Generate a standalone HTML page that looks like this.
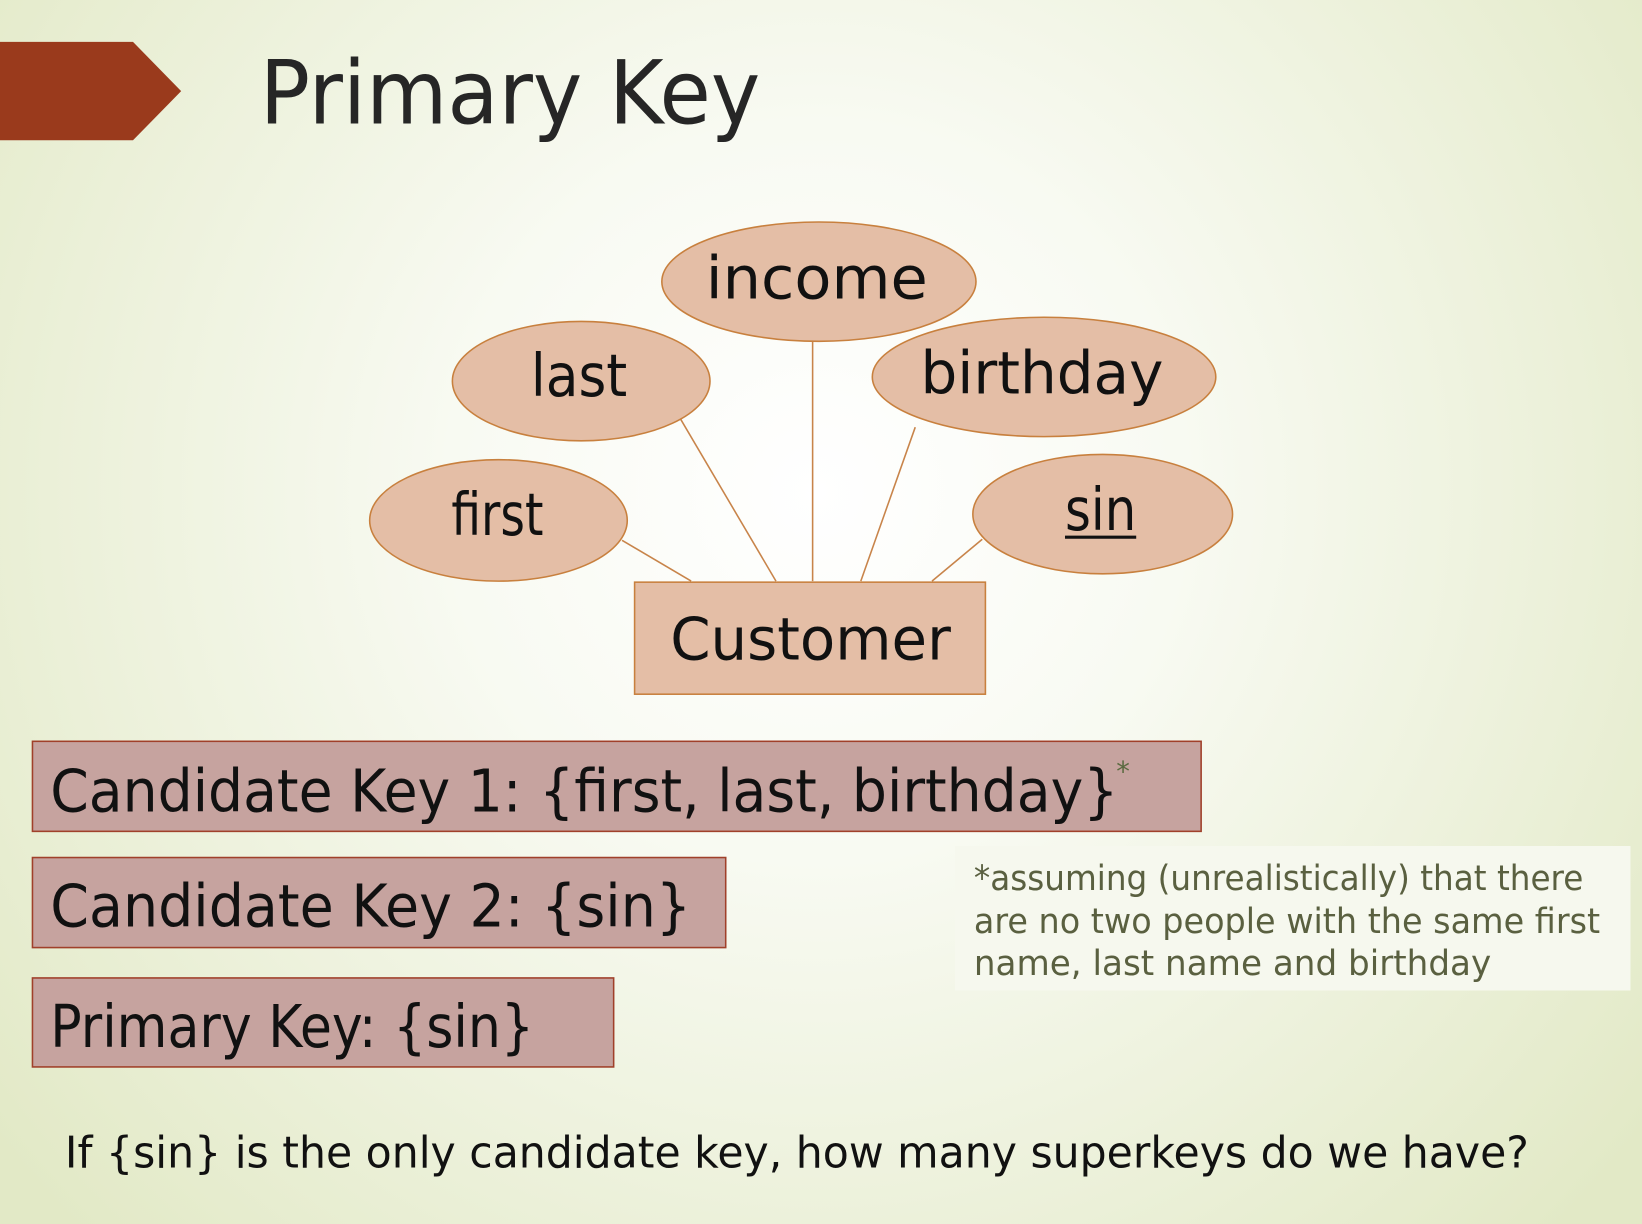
<!DOCTYPE html>
<html><head><meta charset="utf-8"><style>
html,body{margin:0;padding:0;width:1642px;height:1224px;overflow:hidden}
svg{display:block}
text{font-family:"DejaVu Sans","Liberation Sans",sans-serif}
</style></head><body>
<svg width="1642" height="1224" viewBox="0 0 1568 1169" xmlns="http://www.w3.org/2000/svg" preserveAspectRatio="none">
<defs>
<radialGradient id="bg" cx="780" cy="470" r="1000" gradientUnits="userSpaceOnUse">
<stop offset="0" stop-color="#ffffff"/><stop offset="0.35" stop-color="#f8faf2"/><stop offset="1" stop-color="#e2e9c6"/>
</radialGradient>
</defs>
<rect width="1568" height="1169" fill="url(#bg)"/>
<polygon points="0,40 127,40 173,87 127,134 0,134" fill="#9a3a1c"/>
<text x="248" y="118" font-size="84" fill="#262626" textLength="478" lengthAdjust="spacingAndGlyphs">Primary Key</text>
<g stroke="#c8844a" stroke-width="1.5">
<line x1="594" y1="516" x2="660" y2="555"/>
<line x1="648" y1="397" x2="741" y2="555"/>
<line x1="776" y1="326" x2="776" y2="555"/>
<line x1="874" y1="408" x2="822" y2="555"/>
<line x1="938" y1="515" x2="890" y2="555"/>
</g>
<g fill="#e4bea6" stroke="#c8803e" stroke-width="1.5">
<ellipse cx="782" cy="269" rx="150" ry="57"/>
<ellipse cx="555" cy="364" rx="123" ry="57"/>
<ellipse cx="997" cy="360" rx="164" ry="57"/>
<ellipse cx="476" cy="497" rx="123" ry="58"/>
<ellipse cx="1053" cy="491" rx="124" ry="57"/>
<rect x="606" y="556" width="335" height="107"/>
</g>
<g font-size="56" fill="#111">
<text x="674" y="285" textLength="212" lengthAdjust="spacingAndGlyphs">income</text>
<text x="507" y="378" textLength="92" lengthAdjust="spacingAndGlyphs">last</text>
<text x="879" y="376" textLength="232" lengthAdjust="spacingAndGlyphs">birthday</text>
<text x="431" y="511" textLength="88" lengthAdjust="spacingAndGlyphs">first</text>
<text x="1017" y="506" textLength="68" lengthAdjust="spacingAndGlyphs">sin</text>
<line x1="1017" y1="513" x2="1085" y2="513" stroke="#111" stroke-width="3"/>
<text x="640" y="630" textLength="268" lengthAdjust="spacingAndGlyphs">Customer</text>
</g>
<g fill="#c6a39f" stroke="#a0402a" stroke-width="1.5">
<rect x="31" y="708" width="1116" height="86"/>
<rect x="31" y="819" width="662" height="86"/>
<rect x="31" y="934" width="555" height="85"/>
</g>
<g font-size="56" fill="#111">
<text x="48" y="775" textLength="1020" lengthAdjust="spacingAndGlyphs">Candidate Key 1: {first, last, birthday}</text>
<text x="48" y="885" textLength="612" lengthAdjust="spacingAndGlyphs">Candidate Key 2: {sin}</text>
<text x="48" y="1000" textLength="462" lengthAdjust="spacingAndGlyphs">Primary Key: {sin}</text>
</g>
<text x="1066" y="746" font-size="26" fill="#5a6a40">*</text>
<rect x="912" y="808" width="645" height="138" fill="#f6f8ee"/>
<g font-size="33" fill="#5a6040">
<text x="930" y="850" textLength="582" lengthAdjust="spacingAndGlyphs">*assuming (unrealistically) that there</text>
<text x="930" y="891" textLength="598" lengthAdjust="spacingAndGlyphs">are no two people with the same first</text>
<text x="930" y="931" textLength="494" lengthAdjust="spacingAndGlyphs">name, last name and birthday</text>
</g>
<text x="62" y="1115" font-size="42" fill="#111" textLength="1398" lengthAdjust="spacingAndGlyphs">If {sin} is the only candidate key, how many superkeys do we have?</text>
</svg>
</body></html>
